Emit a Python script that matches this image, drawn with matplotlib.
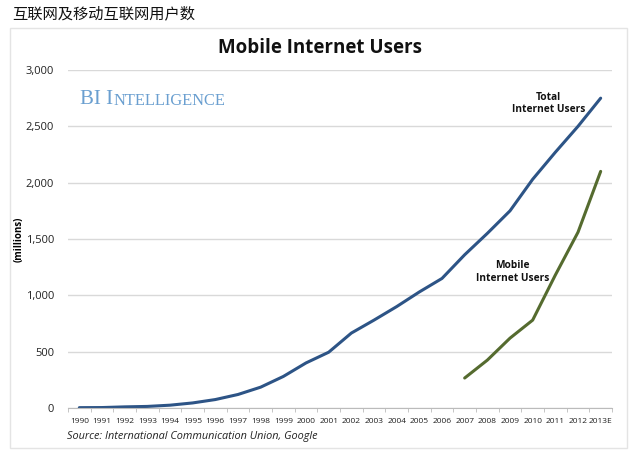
import matplotlib
matplotlib.use("Agg")
import matplotlib.pyplot as plt
from matplotlib.patches import Rectangle

years = ["1990", "1991", "1992", "1993", "1994", "1995", "1996", "1997", "1998", "1999",
         "2000", "2001", "2002", "2003", "2004", "2005", "2006", "2007", "2008", "2009",
         "2010", "2011", "2012", "2013E"]
total_users = [3, 4, 10, 14, 25, 45, 75, 120, 185, 280, 400, 495, 665, 780, 900, 1030,
               1150, 1360, 1550, 1750, 2030, 2270, 2500, 2750]
mobile_years = ["2007", "2008", "2009", "2010", "2011", "2012", "2013E"]
mobile_users = [266, 425, 620, 780, 1180, 1560, 2100]
yticks = [0, 500, 1000, 1500, 2000, 2500, 3000]

W, H = 640, 459
fig = plt.figure(figsize=(W / 100, H / 100), dpi=100)
fig.patch.set_facecolor("white")

# outer chart frame
fig.patches.append(Rectangle((10 / W, 1 - 448 / H), 617 / W, 420 / H, transform=fig.transFigure,
                             fill=False, edgecolor="#e4e4e4", lw=1))

fig.text(12 / W, 1 - 14 / H, "互联网及移动互联网用户数", family=["Noto Sans CJK SC", "DejaVu Sans"],
         fontsize=11, va="center", ha="left", color="#111111")

ax = fig.add_axes([68 / W, 1 - 408 / H, (612 - 68) / W, (408 - 70) / H])
xs = list(range(len(years)))
mx = [years.index(y) for y in mobile_years]
ax.plot(xs, total_users, color="#2d5486", lw=2.2, solid_capstyle="round")
ax.plot(mx, mobile_users, color="#556b2f", lw=2.2, solid_capstyle="round")

ax.set_xlim(-0.5, len(years) - 0.5)
ax.set_ylim(0, 3000)
ax.set_yticks(yticks)
ax.set_yticklabels([f"{v:,}" for v in yticks], fontsize=8, family="Open Sans", color="#222222")
ax.set_xticks(xs)
ax.set_xticklabels(years, fontsize=6, family="Open Sans", color="#222222")
ax.set_xticks([i + 0.5 for i in range(-1, len(years))], minor=True)
ax.tick_params(axis="x", which="major", length=0, pad=7)
ax.tick_params(axis="x", which="minor", length=3, color="#bbbbbb", direction="out")
ax.tick_params(axis="y", length=0, pad=10)
ax.grid(axis="y", color="#d9d9d9", lw=1)
ax.set_axisbelow(True)
for s in ["top", "right", "left"]:
    ax.spines[s].set_visible(False)
ax.spines["bottom"].set_color("#bbbbbb")

ax.set_ylabel("(millions)", fontsize=7, fontweight="bold", family="Open Sans")
ax.yaxis.set_label_coords(-0.08, 0.5)

fig.text(320 / W, 1 - 48 / H, "Mobile Internet Users", fontsize=13.5, fontweight="bold",
         family="Open Sans", ha="center", va="center", color="#111111")

t1 = ax.text(0.022, 0.9, "BI I", transform=ax.transAxes, fontsize=15, family="Liberation Serif",
             color="#6a9fd0", va="baseline")
ax.annotate("NTELLIGENCE", xy=(1, 0), xycoords=t1, fontsize=11.8, family="Liberation Serif",
            color="#6a9fd0", va="bottom")

ax.text(20.7, 2706, "Total\nInternet Users", fontsize=7.3, fontweight="bold",
        family="Open Sans", ha="center", va="center", linespacing=1.15, color="#111111")
ax.text(19.1, 1207, "Mobile\nInternet Users", fontsize=7.3, fontweight="bold",
        family="Open Sans", ha="center", va="center", linespacing=1.15, color="#111111")

fig.text(67 / W, 1 - 437 / H, "Source: International Communication Union, Google", fontsize=7.8,
         style="italic", family="Open Sans", va="center", ha="left", color="#222222")

fig.savefig("out.png", dpi=100, facecolor="white")
